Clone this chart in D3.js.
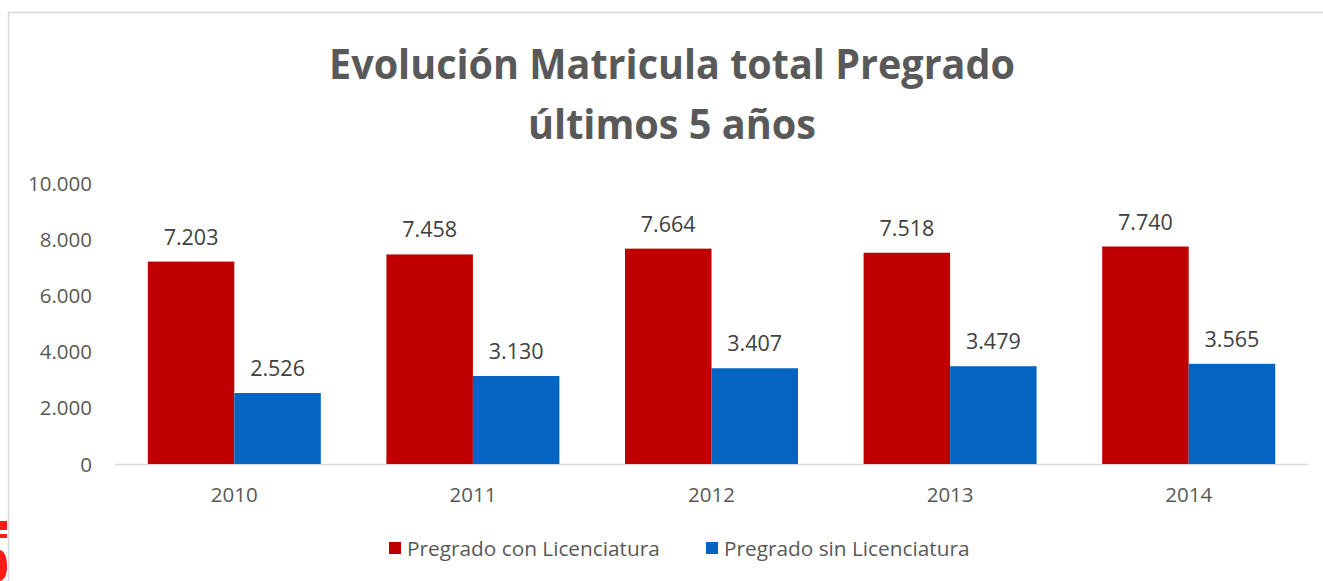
<!DOCTYPE html>
<html><head><meta charset="utf-8">
<script src="https://cdn.jsdelivr.net/npm/d3@7"></script>
<style>body{margin:0;background:#fff}svg{display:block}</style>
</head><body>
<svg id="c" width="1323" height="581"></svg>
<script>
const years = ["2010","2011","2012","2013","2014"];
const conLic = [7203,7458,7664,7518,7740];
const sinLic = [2526,3130,3407,3479,3565];
const seriesNames = ["Pregrado con Licenciatura","Pregrado sin Licenciatura"];
const seriesColors = ["#C00000","#0563C1"];
const yTicks = [0,2000,4000,6000,8000,10000];
const titleLines = ["Evolución Matricula total Pregrado","últimos 5 años"];

const svg = d3.select("#c");
const font = "'Open Sans', 'Noto Sans', sans-serif";
const fmt = d => d3.format(",")(d).replace(/,/g,".");

// chart border
svg.append("path").attr("d","M8.5,581 L8.5,12.5 L1323,12.5").attr("fill","none").attr("stroke","#d9d9d9").attr("stroke-width",1.5);

// stray red fragment at bottom-left (decorative shape outside the chart)
svg.append("path").attr("d","M0,521 H7 V530 H0 Z M0,534 H7 V538 H0 Z M0,550 C5,551 7,558 7,566 C7,574 5,580 0,581 Z")
  .attr("fill","#ff1a1a");

const x0 = d3.scaleBand().domain(years).range([115,1308]).paddingInner(0.275).paddingOuter(0.1375);
const x1 = d3.scaleBand().domain([0,1]).range([0,x0.bandwidth()]);
const y = d3.scaleLinear().domain([0,10000]).range([464,183]);

// title
titleLines.forEach((t,i)=>{
  const el = svg.append("text").attr("x",672).attr("y",[79,139][i]).attr("text-anchor","middle")
    .attr("font-family",font).attr("font-weight",700).attr("font-size",41).attr("fill","#595959").text(t);
  const target = [686,288][i];
  el.attr("textLength",target).attr("lengthAdjust","spacingAndGlyphs");
});

// y axis
const yAxis = svg.append("g").attr("transform","translate(95,0)")
  .call(d3.axisLeft(y).tickValues(yTicks).tickSize(0).tickFormat(fmt));
yAxis.select(".domain").remove();
yAxis.selectAll("text").attr("font-family",font).attr("font-size",20.5).attr("fill","#595959").attr("dy","0.35em");

// baseline
svg.append("line").attr("x1",115).attr("x2",1308).attr("y1",y(0)+0.5).attr("y2",y(0)+0.5).attr("stroke","#d9d9d9").attr("stroke-width",1.5);

// x axis labels
const xAxis = svg.append("g").attr("transform",`translate(0,${y(0)})`)
  .call(d3.axisBottom(x0).tickSize(0).tickPadding(23));
xAxis.select(".domain").remove();
xAxis.selectAll("text").attr("font-family",font).attr("font-size",20.5).attr("fill","#595959").attr("dy","0.71em");

const data = [conLic, sinLic];
data.forEach((vals,s)=>{
  const g = svg.append("g");
  g.selectAll("rect").data(vals).join("rect")
    .attr("x",(d,i)=>x0(years[i])+x1(s)).attr("width",x1.bandwidth())
    .attr("y",d=>y(d)).attr("height",d=>y(0)-y(d)).attr("fill",seriesColors[s]);
  g.selectAll("text").data(vals).join("text")
    .attr("x",(d,i)=>x0(years[i])+x1(s)+x1.bandwidth()/2).attr("y",d=>y(d)-17)
    .attr("text-anchor","middle").attr("font-family",font).attr("font-size",21.5).attr("fill","#404040")
    .text(fmt);
});

// legend
const leg = [{x:389,label:seriesNames[0],c:seriesColors[0]},{x:706,label:seriesNames[1],c:seriesColors[1]}];
leg.forEach(l=>{
  svg.append("rect").attr("x",l.x).attr("y",542).attr("width",12).attr("height",12).attr("fill",l.c);
  svg.append("text").attr("x",l.x+18).attr("y",556).attr("font-family",font).attr("font-size",20.8).attr("fill","#595959").text(l.label);
});
</script>
</body></html>
